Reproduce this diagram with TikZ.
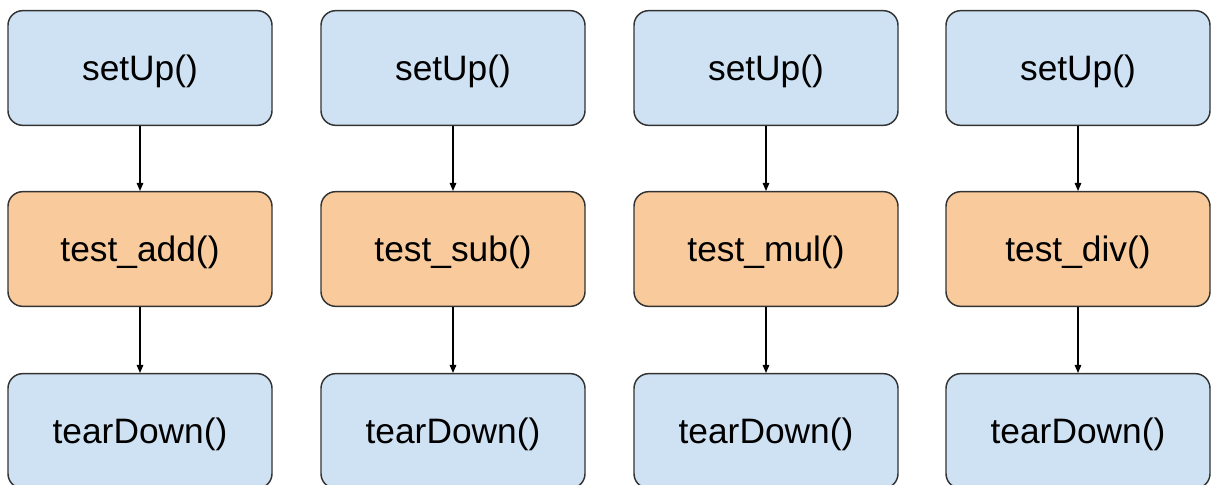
\documentclass[tikz,border=0pt]{standalone}
\usepackage{fontspec}
\setmainfont{Liberation Sans}
\usetikzlibrary{arrows.meta}
\definecolor{setblue}{HTML}{CFE2F3}
\definecolor{testorange}{HTML}{F9CB9C}
\definecolor{edge}{HTML}{333333}
\tikzset{
  fn/.style={draw=edge, line width=1.1pt, rounded corners=11pt,
    minimum width=198pt, minimum height=86pt, inner sep=0pt,
    text height=21pt, text depth=2.5pt,
    font=\fontsize{26.5}{30}\selectfont},
  setupbox/.style={fn, fill=setblue},
  testbox/.style={fn, fill=testorange},
  flow/.style={draw=black, line width=0.8pt, -{Triangle[length=6pt,width=5pt]}}
}
\begin{document}
\begin{tikzpicture}[x=0.75pt, y=-0.75pt]
  \useasboundingbox (0,0) rectangle (1211,485);
  \clip (0,0) rectangle (1211,485);
  \foreach \cx/\name/\lbl in {140/a/add, 453/b/sub, 766/c/mul, 1078/d/div} {
    \node[setupbox] (set\name) at (\cx,68) {setUp()};
    \node[testbox] (test\name) at (\cx,249) {test\_\lbl()};
    \node[setupbox] (tear\name) at (\cx,431) {tearDown()};
    \draw[flow] (set\name) -- (test\name);
    \draw[flow] (test\name) -- (tear\name);
  }
\end{tikzpicture}
\end{document}
